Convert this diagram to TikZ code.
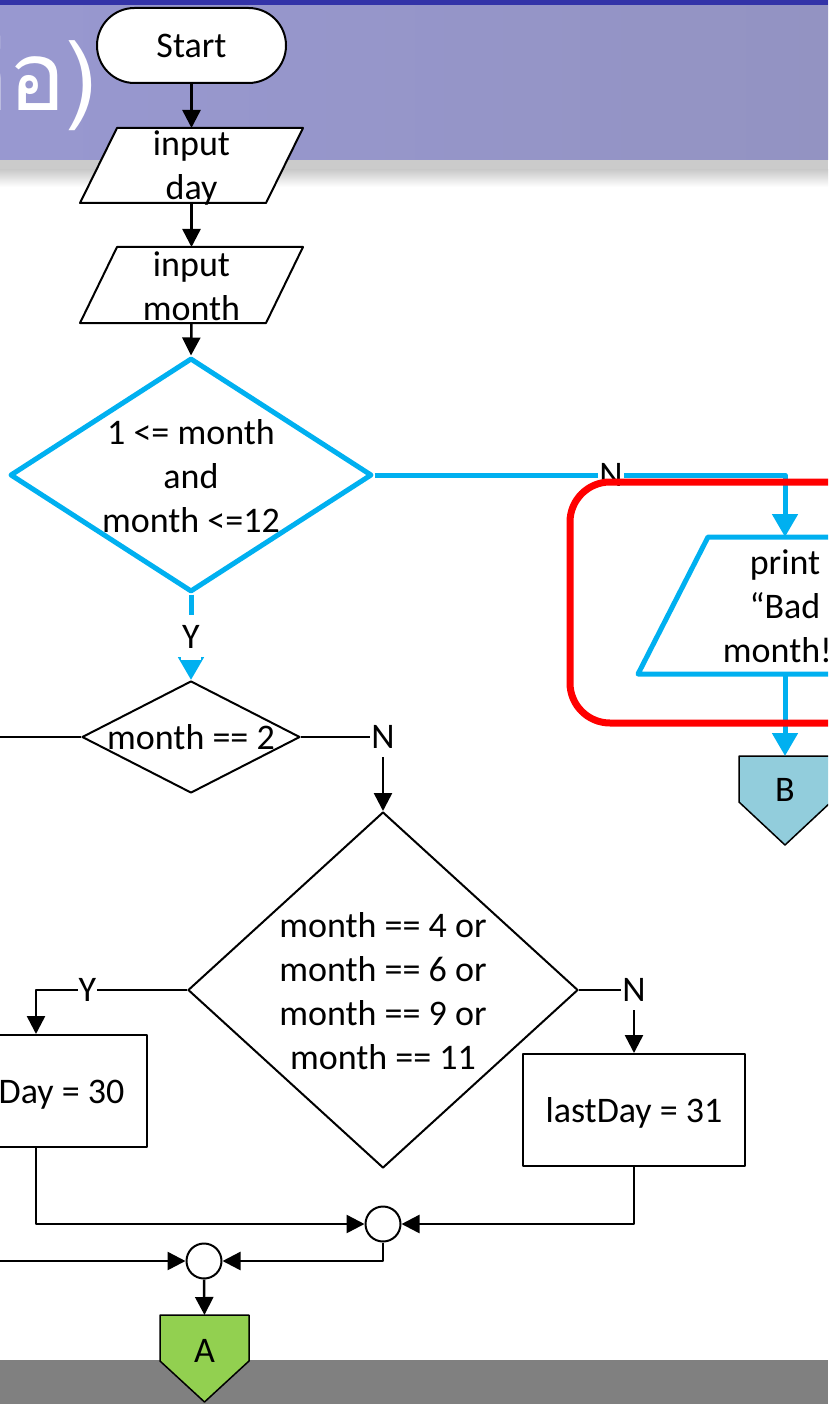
\documentclass[tikz,border=0pt]{standalone}
\usepackage{fontspec}
\setmainfont{Carlito}
\newfontfamily\thaifont[Script=Thai]{Loma}
\usetikzlibrary{shapes.geometric,arrows.meta,calc}

\definecolor{flowblue}{HTML}{00B0F0}
\definecolor{hdrdark}{HTML}{3333A8}
\definecolor{hdrL}{HTML}{9898D0}
\definecolor{hdrR}{HTML}{9393C2}
\definecolor{shadowgray}{HTML}{CBCBCB}
\definecolor{bargray}{HTML}{808080}
\definecolor{Bfill}{HTML}{92CDDC}
\definecolor{Afill}{HTML}{92D050}

\tikzset{
  body/.style={font=\fontsize{36}{44}\selectfont},
  txt/.style={body, align=center, inner sep=0pt},
  frame/.style={rectangle, inner sep=0pt, outer sep=0pt},
  shapeline/.style={draw=black, line width=2pt, fill=white, line join=round},
  startbox/.style={shapeline, rectangle, rounded corners=37.5pt, minimum width=189pt,
    minimum height=75pt, inner sep=0pt, body},
  procbox/.style={shapeline, rectangle, minimum width=222pt, minimum height=112pt,
    inner sep=0pt},
  dia/.style={diamond, inner sep=0pt, shapeline},
  joint/.style={circle, shapeline, minimum size=35pt, inner sep=0pt},
  lbl/.style={body, fill=white, inner xsep=1pt, inner ysep=8pt},
  flow/.style={draw=black, line width=2.5pt, line join=round,
    -{Triangle[length=18pt,width=18pt]}},
  bflow/.style={draw=flowblue, line width=5pt, line join=round,
    -{Triangle[length=23pt,width=25pt]}},
}

\begin{document}
\begin{tikzpicture}[x=1pt,y=-1pt]
\useasboundingbox (0,0) rectangle (828,1404);
\clip (0,0) rectangle (828,1404);

% title band
\shade[left color=hdrL, right color=hdrR] (0,0) rectangle (828,160);
\fill[hdrdark] (0,0) rectangle (828,5);
\fill[shadowgray] (0,160) rectangle (828,170);
\shade[top color=shadowgray, bottom color=white] (0,170) rectangle (828,187);
\node[anchor=base east, text=white, inner sep=0pt,
  font=\thaifont\fontsize{96}{110}\selectfont] (title) at (98,111) {(ต่อ)};

% footer band
\fill[bargray] (0,1360) rectangle (828,1404);

% start and inputs
\node[startbox] (start) at (191.5,45.5) {Start};

\node[frame, minimum width=223pt, minimum height=75pt] (in1) at (191.5,165.5) {};
\draw[shapeline] ($(in1.north west)+(37,0)$) -- (in1.north east)
  -- ($(in1.south east)-(37,0)$) -- (in1.south west) -- cycle;
\node[txt] at ($(in1.center)+(0,3)$) {input\\day};

\node[frame, minimum width=223pt, minimum height=76pt] (in2) at (191.5,285) {};
\draw[shapeline] ($(in2.north west)+(37,0)$) -- (in2.north east)
  -- ($(in2.south east)-(37,0)$) -- (in2.south west) -- cycle;
\node[txt] at ($(in2.center)+(0,1)$) {input\\month};

% range check
\node[dia, draw=flowblue, line width=5pt, minimum width=362pt, minimum height=234pt] (d1) at (191,475) {};
\node[txt] at ($(d1.center)+(0,1)$) {1 <= month\\and\\month <=12};

% error branch
\node[frame, minimum width=294pt, minimum height=137pt] (pr) at (785,605.5) {};
\draw[shapeline, draw=flowblue, line width=5pt] ($(pr.north west)+(70,0)$) -- (pr.north east)
  -- ($(pr.south east)-(70,0)$) -- (pr.south west) -- cycle;
\node[txt] at ($(pr.center)+(0,1)$) {print\\“Bad\\month!”};

\node[frame, minimum width=92pt, minimum height=46pt] (B) at (785,779) {};
\draw[shapeline, fill=Bfill, line width=1.5pt] (B.north west) -- (B.north east) -- (B.south east)
  -- ($(B.south)+(0,43)$) -- (B.south west) -- cycle;
\node[txt] at ($(B.center)+(0,11)$) {B};

% month tests
\node[dia, minimum width=218pt, minimum height=112pt] (d2) at (191,737) {};
\node[txt] at (d2) {month == 2};

\node[dia, minimum width=390pt, minimum height=356pt] (d3) at (383,990) {};
\node[txt] at ($(d3.center)+(0,1)$) {month == 4 or\\month == 6 or\\month == 9 or\\month == 11};

\node[procbox] (r30) at (36,1091) {};
\node[txt] at ($(r30.center)+(0,3)$) {lastDay = 30};
\node[procbox] (r31) at (634,1110) {};
\node[txt] at ($(r31.center)+(0,3)$) {lastDay = 31};

\node[joint] (c1) at (383,1224) {};
\node[joint] (c2) at (204,1261) {};

\node[frame, minimum width=89pt, minimum height=46pt] (A) at (204.5,1338) {};
\draw[shapeline, fill=Afill, line width=1.5pt] (A.north west) -- (A.north east) -- (A.south east)
  -- ($(A.south)+(0,41)$) -- (A.south west) -- cycle;
\node[txt] at ($(A.center)+(0,13)$) {A};

\coordinate (left2) at (0,737);
\coordinate (left3) at (0,1261);

% connectors
\draw[flow] (start.south) -- (in1.north);
\draw[flow] (in1.south) -- (in2.north);
\draw[flow] (in2.south) -- (d1.north);
\draw[bflow] (d1.south) -- node[lbl, inner ysep=11pt] {Y} (d2.north);
\draw[bflow] (d1.east) -| node[lbl, pos=0.288, inner ysep=2pt] {N} (pr.north);
\draw[bflow] (pr.south) -- (B.north);

\draw[draw=red, line width=7pt, rounded corners=40pt] (570,482) rectangle (900,723);

\draw[line width=2.5pt] (d2.west) -- (left2);
\draw[flow] (d2.east) -| node[lbl, pos=0.5] {N} (d3.north);
\draw[flow] (d3.east) -| node[lbl, pos=0.5] {N} (r31.north);
\draw[flow] (d3.west) -| node[lbl, pos=0.33, inner ysep=2pt] {Y} (r30.north);
\draw[flow] (r30.south) |- (c1.west);
\draw[flow] (r31.south) |- (c1.east);
\draw[flow] (c1.south) |- (c2.east);
\draw[flow] (left3) -- (c2.west);
\draw[flow] (c2.south) -- (A.north);
\end{tikzpicture}
\end{document}
